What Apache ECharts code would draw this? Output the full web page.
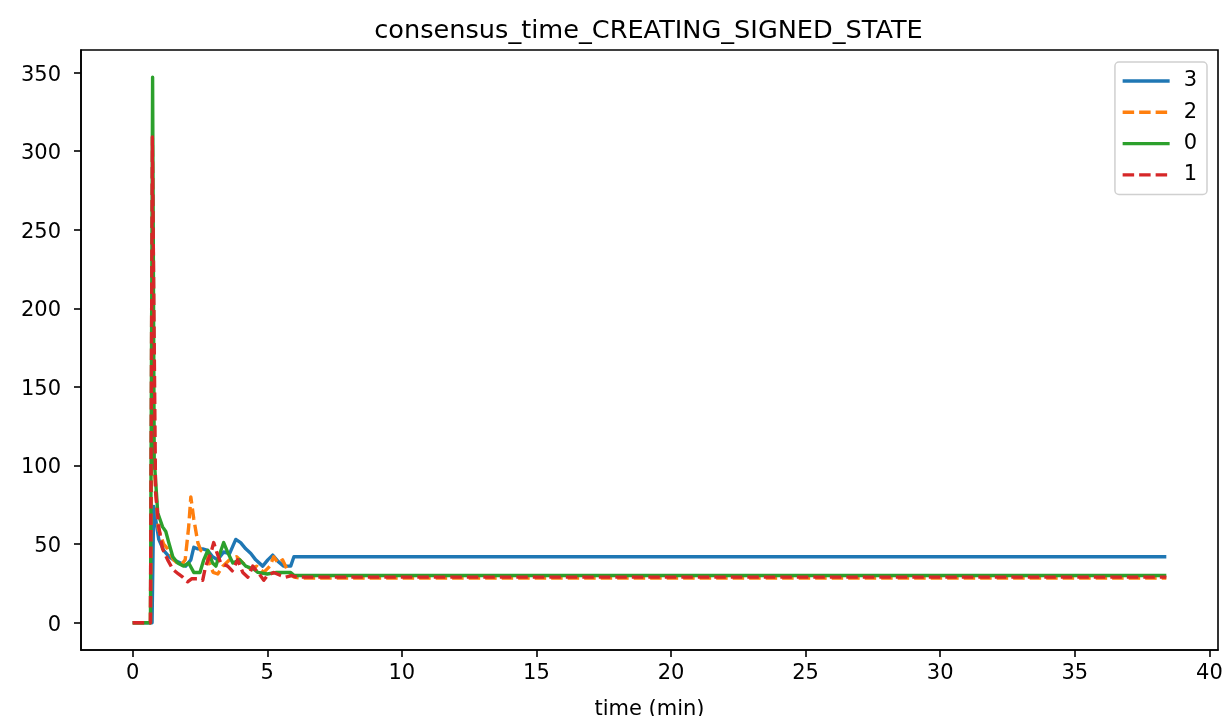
<!DOCTYPE html>
<html>
<head>
<meta charset="utf-8">
<script src="https://cdn.jsdelivr.net/npm/echarts@6/dist/echarts.min.js"></script>
<style>
html,body{margin:0;padding:0;background:#fff;}
#chart{width:1226px;height:716px;}
</style>
</head>
<body>
<div id="chart"></div>
<script>
// Series "3" (blue, solid)
const t3 = [0, 0.6, 0.72, 0.78, 0.97, 1.15, 1.35, 1.52, 1.78, 1.97, 2.16, 2.27, 2.42, 2.6, 2.79, 2.97, 3.16, 3.38, 3.6, 3.83, 4.01, 4.2, 4.39, 4.57, 4.83, 5.02, 5.2, 5.4, 5.61, 5.87, 5.99, 38.4];
const v3 = [0, 0, 0, 74, 53, 46, 42, 40, 38, 36, 40, 48, 47, 47, 46, 42, 40, 45, 44, 53, 51, 47, 44, 40, 36, 40, 43, 39, 36, 36, 42, 42];
// Series "2" (orange, dashed)
const t2 = [0, 0.66, 0.74, 0.8, 0.95, 1.15, 1.3, 1.52, 1.78, 1.95, 2.08, 2.16, 2.27, 2.42, 2.53, 2.7, 2.99, 3.16, 3.35, 3.6, 3.86, 4.1, 4.39, 4.6, 4.87, 5.1, 5.24, 5.4, 5.57, 5.76, 5.99, 6.2, 38.4];
const v2 = [0, 0, 220, 100, 60, 50, 47, 40, 36, 40, 61, 80, 66, 51, 46, 44, 32, 31, 36, 40, 42, 38, 34, 36, 32, 36, 42, 38, 40, 33, 29, 28.5, 28.5];
// Series "0" (green, solid)
const t0 = [0, 0.66, 0.74, 0.8, 0.93, 1.11, 1.23, 1.34, 1.49, 1.67, 1.9, 2.08, 2.27, 2.5, 2.64, 2.79, 2.97, 3.09, 3.2, 3.38, 3.55, 3.72, 3.98, 4.2, 4.5, 4.65, 5.0, 5.35, 5.7, 5.87, 6.0, 38.4];
const v0 = [0, 0, 347, 104, 70, 61, 58, 51, 42, 38, 36, 38, 32, 32, 40, 46, 38, 36, 42, 51, 44, 38, 40, 36, 34, 32, 31, 32, 32, 32, 30, 30];
// Series "1" (red, dashed)
const t1 = [0, 0.66, 0.73, 0.85, 0.97, 1.11, 1.3, 1.49, 1.7, 1.86, 2.04, 2.2, 2.42, 2.6, 2.71, 2.9, 3.01, 3.12, 3.27, 3.53, 3.7, 3.9, 4.09, 4.28, 4.46, 4.7, 4.87, 5.0, 5.24, 5.5, 5.68, 5.9, 6.1, 38.4];
const v1 = [0, 0, 309, 83, 61, 47, 40, 34, 31, 29, 26, 28, 28, 27, 36, 44, 51, 45, 38, 36, 33, 40, 32, 29, 36, 31, 27, 30, 32, 30, 29, 30, 29, 29];

const xTicks = [0, 5, 10, 15, 20, 25, 30, 35, 40];
const yTicks = [0, 50, 100, 150, 200, 250, 300, 350];
const seriesNames = ['3', '2', '0', '1'];
const chartTitle = 'consensus_time_CREATING_SIGNED_STATE';
const xLabel = 'time (min)';

const zip = (t, v) => t.map((x, i) => [x, v[i]]);
const FONT = 'DejaVu Sans';
const dash = [11.5, 5];

const defs = [
  {name: seriesNames[0], data: zip(t3, v3), color: '#1f77b4', type: 'solid'},
  {name: seriesNames[1], data: zip(t2, v2), color: '#ff7f0e', type: dash},
  {name: seriesNames[2], data: zip(t0, v0), color: '#2ca02c', type: 'solid'},
  {name: seriesNames[3], data: zip(t1, v1), color: '#d62728', type: dash}
];

const chart = echarts.init(document.getElementById('chart'), null, {renderer: 'canvas'});
chart.setOption({
  animation: false,
  backgroundColor: '#fff',
  title: {
    text: chartTitle,
    left: 643.5,
    textAlign: 'center',
    top: 13,
    textStyle: {fontFamily: FONT, fontSize: 25.6, fontWeight: 'normal', color: '#000'}
  },
  legend: {
    orient: 'vertical',
    right: 19,
    top: 62,
    data: seriesNames,
    itemWidth: 47,
    itemHeight: 10,
    itemGap: 10.3,
    padding: [8.5, 10, 9, 6],
    borderColor: '#d0d0d0',
    borderWidth: 1.5,
    borderRadius: 4,
    backgroundColor: 'rgba(255,255,255,0.8)',
    itemStyle: {color: 'transparent', borderWidth: 0, opacity: 0},
    lineStyle: {width: 3.4},
    textStyle: {fontFamily: FONT, fontSize: 21, color: '#000', lineHeight: 21, padding: [0, 0, 0, 9]}
  },
  grid: {
    left: 81, right: 8, top: 50, bottom: 66,
    outerBoundsMode: 'none',
    containLabel: false,
    show: true, borderColor: '#000', borderWidth: 1.6, backgroundColor: 'transparent'
  },
  xAxis: {
    type: 'value',
    min: -1.92, max: 40.32,
    name: xLabel,
    nameLocation: 'middle',
    nameGap: 49,
    nameTextStyle: {fontFamily: FONT, fontSize: 21, color: '#000'},
    axisLine: {show: true, onZero: false, lineStyle: {color: '#000', width: 1.6}},
    axisTick: {show: true, customValues: xTicks, length: 7, lineStyle: {color: '#000', width: 1.6}},
    axisLabel: {customValues: xTicks, fontFamily: FONT, fontSize: 21, color: '#000', margin: 13},
    splitLine: {show: false}
  },
  yAxis: {
    type: 'value',
    min: -17.35, max: 364.35,
    axisLine: {show: true, onZero: false, lineStyle: {color: '#000', width: 1.6}},
    axisTick: {show: true, customValues: yTicks, length: 7, lineStyle: {color: '#000', width: 1.6}},
    axisLabel: {
      customValues: yTicks, margin: 20,
      formatter: v => '{a|' + v + '}',
      rich: {a: {fontFamily: FONT, fontSize: 21, color: '#000', padding: [5, 0, 0, 0]}}
    },
    splitLine: {show: false}
  },
  series: defs.map(d => ({
    name: d.name,
    type: 'line',
    data: d.data,
    symbol: 'none',
    showSymbol: false,
    color: d.color,
    lineStyle: {color: d.color, width: 3.4, type: d.type, cap: 'butt', join: 'round'},
    emphasis: {disabled: true}
  }))
});
</script>
</body>
</html>
